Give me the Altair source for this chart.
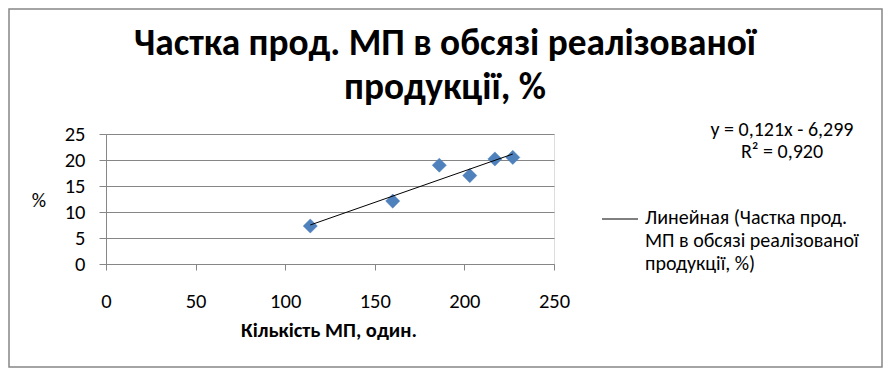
import altair as alt
import pandas as pd

# Data
kilkist_mp = [114, 160, 186, 203, 217, 227]
chastka = [7.3, 12.1, 19.0, 17.0, 20.2, 20.5]

x_ticks = [0, 50, 100, 150, 200, 250]
y_ticks = [0, 5, 10, 15, 20, 25]

title_lines = ["Частка прод. МП в обсязі реалізованої", "продукції, %"]
x_title = "Кількість МП, один."
y_title = "%"
equation_lines = ["y = 0,121x - 6,299", "R² = 0,920"]
legend_lines = ["Линейная (Частка прод.", "МП в обсязі реалізованої", "продукції, %)"]

FONT = "Carlito, Calibri, Lato, sans-serif"
GRID = "#868686"
BLUE = "#4F81BD"

W, H = 448, 130
PAD_L, PAD_T = 98, 126
TOTAL_W, TOTAL_H = 875, 360

df = pd.DataFrame({"x": kilkist_mp, "y": chastka})
one = pd.DataFrame({"k": [0]})

xscale = alt.Scale(domain=[0, 250], nice=False, zero=True)
yscale = alt.Scale(domain=[0, 25], nice=False, zero=True)

xaxis = alt.Axis(
    values=x_ticks, title=None, grid=False, tickSize=6, labelPadding=21,
    labelFontSize=20.5, labelFont=FONT, labelColor="#000000",
    domainColor=GRID, tickColor=GRID, labelFlush=False, labelOverlap=False,
)
yaxis = alt.Axis(
    values=y_ticks, title=None, grid=True, gridColor=GRID, gridOpacity=1,
    tickSize=7, labelPadding=14, labelFontSize=20.5, labelFont=FONT,
    labelColor="#000000", domainColor=GRID, tickColor=GRID,
    labelOverlap=False, labelFlush=False,
)

base = alt.Chart(df)

points = base.mark_point(
    shape="diamond", filled=True, size=200, color=BLUE, opacity=1,
    stroke="#4A7EBB", strokeWidth=0.5,
).encode(
    x=alt.X("x:Q", scale=xscale, axis=xaxis),
    y=alt.Y("y:Q", scale=yscale, axis=yaxis),
)

trend = base.transform_regression("x", "y", method="linear").mark_line(
    color="#000000", strokeWidth=1
).encode(
    x=alt.X("x:Q", scale=xscale, axis=xaxis),
    y=alt.Y("y:Q", scale=yscale, axis=yaxis),
)

def txt(lines, x, y, size, bold=False, align="center", line_h=None):
    kw = dict(text=lines, fontSize=size, font=FONT, color="#000000",
              align=align, baseline="alphabetic",
              fontWeight="bold" if bold else "normal")
    if line_h:
        kw["lineHeight"] = line_h
    return alt.Chart(one).mark_text(**kw).encode(x=alt.value(x), y=alt.value(y))

title = txt(title_lines, 339, -79, 37.3, bold=True, line_h=44)
xt = txt([x_title], 223, 203, 20.5, bold=True)
yt = txt([y_title], -67, 73, 20)
eq = txt(equation_lines, 676, 2, 20, line_h=22)
leg = txt(legend_lines, 539, 90, 20, align="left", line_h=23)
leg_line = alt.Chart(one).mark_rule(color="#000000", strokeWidth=1).encode(
    x=alt.value(496), x2=alt.value(532), y=alt.value(85)
)
border = alt.Chart(one).mark_rect(
    fill=None, stroke="#878787", strokeWidth=1.5
).encode(
    x=alt.value(-PAD_L + 1), x2=alt.value(TOTAL_W - PAD_L - 1),
    y=alt.value(-PAD_T + 1), y2=alt.value(TOTAL_H - PAD_T - 1),
)

chart = alt.layer(points, trend, title, xt, yt, eq, leg, leg_line, border).properties(
    width=W, height=H,
    autosize=alt.AutoSizeParams(type="none"),
    padding={"left": PAD_L, "top": PAD_T, "right": TOTAL_W - PAD_L - W,
             "bottom": TOTAL_H - PAD_T - H},
).configure_view(stroke=None, strokeWidth=0).configure(background="white")

chart.save("out.html", embed_options={"renderer": "svg", "actions": False})
